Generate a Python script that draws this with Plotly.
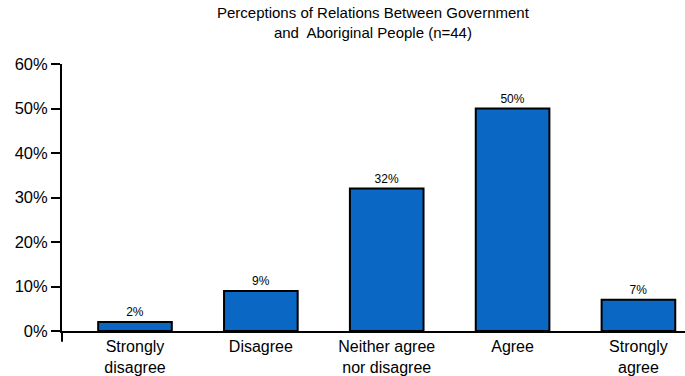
import plotly.graph_objects as go

categories = ["Strongly<br>disagree", "Disagree", "Neither agree<br>nor disagree", "Agree", "Strongly<br>agree"]
values = [2, 9, 32, 50, 7]
labels = ["2%", "9%", "32%", "50%", "7%"]
y_ticks = [0, 10, 20, 30, 40, 50, 60]
y_tick_text = ["0%", "10%", "20%", "30%", "40%", "50%", "60%"]

FONT = "Liberation Sans, Arial, sans-serif"

fig = go.Figure()
fig.add_trace(go.Bar(
    x=list(range(len(categories))),
    y=values,
    text=labels,
    textposition="outside",
    textfont=dict(family=FONT, size=12, color="black"),
    cliponaxis=False,
    width=0.585,
    marker=dict(color="#0A67C3", line=dict(color="black", width=2)),
))

fig.update_layout(
    width=685, height=376,
    margin=dict(l=62, r=0, t=64, b=42),
    paper_bgcolor="white", plot_bgcolor="white",
    showlegend=False,
    xaxis=dict(
        range=[-0.58, 4.37],
        tickmode="array",
        tickvals=list(range(len(categories))),
        ticktext=categories,
        showline=True, linecolor="black", linewidth=2,
        ticks="", showgrid=False, zeroline=False,
        tickfont=dict(family=FONT, size=16, color="black"),
    ),
    yaxis=dict(
        range=[0, 60],
        tickmode="array",
        tickvals=y_ticks,
        ticktext=y_tick_text,
        showline=True, linecolor="black", linewidth=2,
        ticks="outside", ticklen=9, tickwidth=2, tickcolor="black",
        showgrid=False, zeroline=False,
        tickfont=dict(family=FONT, size=16.5, color="black"),
    ),
)

fig.add_annotation(
    text="Perceptions of Relations Between Government<br>and  Aboriginal People (n=44)",
    xref="paper", yref="paper", x=0.5, y=1,
    xanchor="center", yanchor="top", yshift=62,
    showarrow=False, align="center",
    font=dict(family=FONT, size=15, color="black"),
)

# extend y-axis line slightly below the x axis
fig.add_shape(type="line", xref="paper", yref="paper",
              x0=0, x1=0, y0=0, y1=-0.04,
              line=dict(color="black", width=2))

fig.write_html("out.html")
